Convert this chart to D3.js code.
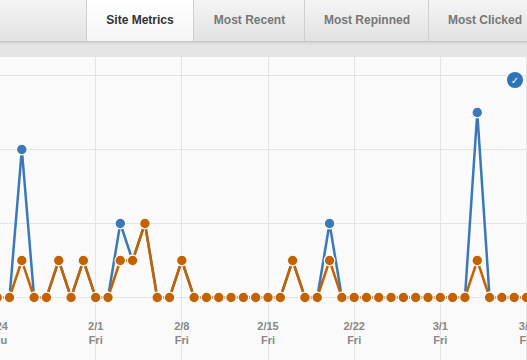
<!DOCTYPE html>
<meta charset="utf-8">
<style type="text/css">
html, body { margin: 0; padding: 0; background: #fafafa; overflow: hidden; }
svg { display: block; font-family: "Liberation Sans", Arial, sans-serif; }
</style>
<body>
<script src="https://d3js.org/d3.v7.min.js"></script>
<script>
// tabs
const tabNames = ["Site Metrics", "Most Recent", "Most Repinned", "Most Clicked"];
const tabEdges = [86, 194, 305, 429, 527];

// one value per day, starting 1/24
const days = ["1/24","1/25","1/26","1/27","1/28","1/29","1/30","1/31","2/1","2/2","2/3","2/4","2/5","2/6","2/7","2/8","2/9","2/10","2/11","2/12","2/13","2/14","2/15","2/16","2/17","2/18","2/19","2/20","2/21","2/22","2/23","2/24","2/25","2/26","2/27","2/28","3/1","3/2","3/3","3/4","3/5","3/6","3/7","3/8"];
const blue = [0,0,4,0,0,1,0,1,0,0,2,1,2,0,0,1,0,0,0,0,0,0,0,0,1,0,0,2,0,0,0,0,0,0,0,0,0,0,0,5,0,0,0,0];
const orange = [0,0,1,0,0,1,0,1,0,0,1,1,2,0,0,1,0,0,0,0,0,0,0,0,1,0,0,1,0,0,0,0,0,0,0,0,0,0,0,1,0,0,0,0];
const tickDays = ["1/24","2/1","2/8","2/15","2/22","3/1","3/8"];
const tickNames = ["Thu","Fri","Fri","Fri","Fri","Fri","Fri"];
const yTicks = [0, 2, 4, 6];

const svg = d3.select("body").append("svg").attr("width", 527).attr("height", 360);
const defs = svg.append("defs");

const headGrad = defs.append("linearGradient").attr("id", "head").attr("x2", 0).attr("y2", 1);
headGrad.append("stop").attr("offset", 0).attr("stop-color", "#f4f4f4");
headGrad.append("stop").attr("offset", 1).attr("stop-color", "#e2e2e2");
const activeGrad = defs.append("linearGradient").attr("id", "active").attr("x2", 0).attr("y2", 1);
activeGrad.append("stop").attr("offset", 0).attr("stop-color", "#ffffff");
activeGrad.append("stop").attr("offset", 1).attr("stop-color", "#f5f5f5");
const shadowGrad = defs.append("linearGradient").attr("id", "shadow").attr("x2", 0).attr("y2", 1);
shadowGrad.append("stop").attr("offset", 0).attr("stop-color", "#d2d2d2");
shadowGrad.append("stop").attr("offset", 1).attr("stop-color", "#e5e5e5");

// band under the header
svg.append("rect").attr("y", 41).attr("width", 527).attr("height", 16).attr("fill", "#e5e5e5");
svg.append("rect").attr("y", 0).attr("width", 527).attr("height", 41).attr("fill", "url(#head)");
svg.append("rect").attr("y", 41).attr("width", 527).attr("height", 1).attr("fill", "#c6c6c6");
svg.append("rect").attr("y", 42).attr("width", 527).attr("height", 3).attr("fill", "url(#shadow)");

const tabs = svg.selectAll("g.tab").data(tabNames).join("g").attr("class", "tab");
tabs.filter((d, i) => i == 0).append("rect")
    .attr("x", tabEdges[0]).attr("width", tabEdges[1] - tabEdges[0]).attr("height", 41)
    .attr("fill", "url(#active)");
tabs.append("line")
    .attr("x1", (d, i) => tabEdges[i] - 0.5 + (i == 0 ? 1 : 0)).attr("x2", (d, i) => tabEdges[i] - 0.5 + (i == 0 ? 1 : 0))
    .attr("y1", 0).attr("y2", 41).attr("stroke", "#cfcfcf");
tabs.append("text")
    .attr("x", (d, i) => (tabEdges[i] + tabEdges[i + 1]) / 2 + (i == 3 ? 7 : 0))
    .attr("y", 24)
    .attr("text-anchor", "middle")
    .attr("font-size", 12)
    .attr("font-weight", "bold")
    .attr("fill", (d, i) => i == 0 ? "#333" : "#777")
    .text(d => d);

// plot background
svg.append("rect").attr("y", 57).attr("width", 527).attr("height", 303).attr("fill", "#fafafa");

const x = d3.scalePoint().domain(days).range([-2.8, 526.5]);
const y = d3.scaleLinear().domain([0, 6]).range([297.5, 75.5]);

// grid
svg.append("g").selectAll("line").data(yTicks).join("line")
    .attr("x1", 0).attr("x2", 527)
    .attr("y1", d => y(d)).attr("y2", d => y(d))
    .attr("stroke", "#e4e4e4");
svg.append("g").selectAll("line").data(tickDays).join("line")
    .attr("x1", d => Math.floor(x(d)) + 0.5).attr("x2", d => Math.floor(x(d)) + 0.5)
    .attr("y1", 57).attr("y2", 360)
    .attr("stroke", "#e4e4e4");

// axis labels
const labels = svg.append("g").attr("fill", "#888").attr("font-size", 11).attr("font-weight", "bold").attr("text-anchor", "middle");
labels.selectAll("text.day").data(tickDays).join("text").attr("class", "day")
    .attr("x", d => x(d)).attr("y", 330).text(d => d);
labels.selectAll("text.name").data(tickNames).join("text").attr("class", "name")
    .attr("x", (d, i) => x(tickDays[i])).attr("y", 344).text(d => d);

// series
const line = d3.line().x((d, i) => x(days[i])).y(d => y(d));
function drawSeries(values, color) {
    const g = svg.append("g");
    g.append("path").attr("d", line(values)).attr("fill", "none").attr("stroke", color).attr("stroke-width", 2.5);
    g.selectAll("circle").data(values).join("circle")
        .attr("cx", (d, i) => x(days[i])).attr("cy", d => y(d)).attr("r", 5.3)
        .attr("fill", color).attr("stroke", "#fafafa").attr("stroke-width", 1.2);
}
drawSeries(blue, "#3a78b8");
drawSeries(orange, "#c46200");

// check badge
const badge = svg.append("g").attr("transform", "translate(515,80)");
badge.append("circle").attr("r", 8).attr("fill", "#2f74b8");
badge.append("text").attr("text-anchor", "middle").attr("y", 3.5).attr("font-size", 10).attr("fill", "#fff").attr("font-family", "DejaVu Sans").text("✓");
</script>
</body>
</html>
